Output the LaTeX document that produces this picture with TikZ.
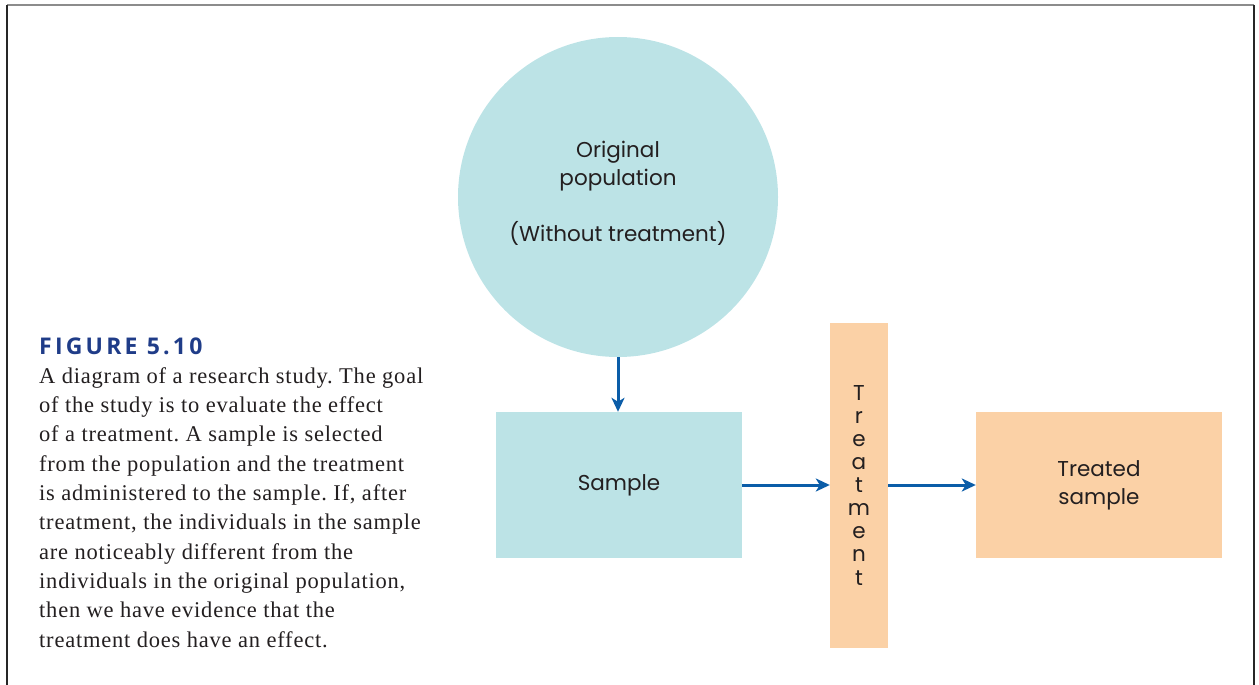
\documentclass[tikz,border=0pt]{standalone}
\usepackage{fontspec}
\setmainfont[LetterSpace=3.5]{Liberation Serif}
\newfontfamily\diagfont{Poppins}
\newfontfamily\headfont[LetterSpace=14]{Open Sans}
\usetikzlibrary{arrows.meta}
\definecolor{cyanfill}{HTML}{BCE3E6}
\definecolor{peachfill}{HTML}{FBD1A6}
\definecolor{arrowblue}{HTML}{0B5DA8}
\definecolor{headblue}{HTML}{1F3C88}
\definecolor{txtgrey}{HTML}{231F20}
\tikzset{
  cyanbox/.style={fill=cyanfill, draw=none, inner sep=0pt},
  peachbox/.style={fill=peachfill, draw=none, inner sep=0pt},
  diagtext/.style={font=\diagfont\fontsize{21.5}{28}\selectfont, text=txtgrey, align=center},
  flow/.style={draw=arrowblue, line width=3pt, -{Stealth[length=14pt,width=13pt,inset=4pt]}},
  frameline/.style={line width=1.5pt}
}
\frenchspacing
\begin{document}
\begin{tikzpicture}[x=1pt,y=-1pt]
\useasboundingbox (0,0) rectangle (1259,685);
% frame
\draw[frameline, draw=black!45] (7,5) -- (1254,5);
\draw[frameline, draw=black!85] (7,5) -- (7,685);
\draw[frameline, draw=black!85] (1254,5) -- (1254,685);
% caption
\node[anchor=base west, inner sep=0pt, text=headblue, font=\headfont\bfseries\fontsize{23}{26}\selectfont] (head) at (39,354) {FIGURE 5.10};
\node[anchor=base west, inner sep=0pt, align=left, text=txtgrey, font=\fontsize{22.5}{29.3}\selectfont] (body) at (39,647) {A diagram of a research study. The goal\\of the study is to evaluate the effect\\of a treatment. A sample is selected\\from the population and the treatment\\is administered to the sample. If, after\\treatment, the individuals in the sample\\are noticeably different from the\\individuals in the original population,\\then we have evidence that the\\treatment does have an effect.};
% diagram
\node[circle, fill=cyanfill, minimum size=320pt, inner sep=0pt] (pop) at (618,197) {};
\node[diagtext, anchor=base] (poptext) at (618,241) {Original\\population\\[28pt](Without treatment)};
\node[cyanbox, minimum width=246pt, minimum height=146pt, diagtext] (sample) at (619,485) {Sample};
\node[peachbox, minimum width=58pt, minimum height=325pt] (treat) at (859,485.5) {};
\node[diagtext, anchor=base, font=\diagfont\fontsize{21.5}{23.1}\selectfont] (treattext) at (859,585) {T\\r\\e\\a\\t\\m\\e\\n\\t};
\node[peachbox, minimum width=246pt, minimum height=146pt] (treated) at (1099,485) {};
\node[diagtext, anchor=base] (treatedtext) at (1099,504) {Treated\\sample};
\draw[flow] (pop.south) -- (pop.south |- sample.north);
\draw[flow] (sample.east) -- (treat.west |- sample.east);
\draw[flow] (treat.east |- treated.west) -- (treated.west);
\end{tikzpicture}
\end{document}
